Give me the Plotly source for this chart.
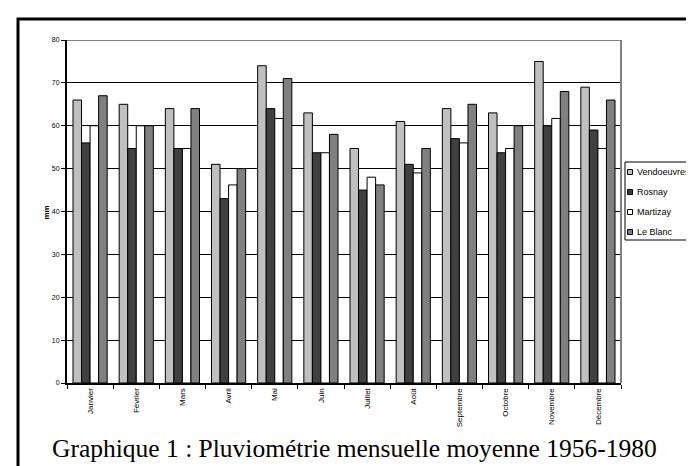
import plotly.graph_objects as go

months = ["Janvier", "Février", "Mars", "Avril", "Mai", "Juin", "Juillet",
          "Août", "Septembre", "Octobre", "Novembre", "Décembre"]
vendoeuvres = [66, 65, 64, 51, 74, 63, 54.7, 61, 64, 63, 75, 69]
rosnay = [56, 54.7, 54.7, 43, 64, 53.7, 45, 51, 57, 53.7, 60, 59]
martizay = [60, 60, 54.7, 46.2, 61.7, 53.7, 48, 49, 56, 54.7, 61.7, 54.7]
le_blanc = [67, 60, 64, 50, 71, 58, 46.2, 54.7, 65, 60, 68, 66]

names = ["Vendoeuvres", "Rosnay", "Martizay", "Le Blanc"]
values = [vendoeuvres, rosnay, martizay, le_blanc]
colors = ["#c0c0c0", "#404040", "#ffffff", "#808080"]

# plot-area geometry in pixels (for converting to paper coordinates)
L, R, T, B = 59, 613, 32, 375
W, H = R - L, B - T
px = lambda x: (x - L) / W
py = lambda y: (B - y) / H

fig = go.Figure()
for name, vals, col in zip(names, values, colors):
    fig.add_trace(go.Bar(x=months, y=vals, name=name,
                         marker=dict(color=col, line=dict(color="black", width=1))))

fig.update_layout(
    width=694, height=466,
    margin=dict(l=L, r=694 - R, t=T, b=466 - B),
    paper_bgcolor="white", plot_bgcolor="white",
    barmode="group", bargap=0.26, bargroupgap=0,
    font=dict(family="Liberation Sans, Arial", color="black", size=8),
    showlegend=False,
    xaxis=dict(tickangle=-90, tickson="boundaries", ticks="outside", ticklen=4,
               tickcolor="black", showline=True, linecolor="black", linewidth=2,
               showgrid=False, tickfont=dict(size=8, color="black")),
    yaxis=dict(range=[0, 80], dtick=10, ticks="outside", ticklen=4, tickcolor="black",
               showline=True, linecolor="black", linewidth=2,
               showgrid=True, gridcolor="black", gridwidth=1,
               tickfont=dict(size=7, color="black"), zeroline=False),
)

fig.add_shape(type="line", xref="paper", yref="y", x0=0, x1=1, y0=80, y1=80,
              line=dict(color="#808080", width=2))
fig.add_shape(type="line", xref="paper", yref="paper", x0=1, x1=1, y0=0, y1=1,
              line=dict(color="#808080", width=2))
# outer frame
fig.add_shape(type="rect", xref="paper", yref="paper",
              x0=px(10), x1=px(720), y0=py(480), y1=py(11),
              line=dict(color="black", width=3), fillcolor="rgba(0,0,0,0)", layer="above")

# legend box
fig.add_shape(type="rect", xref="paper", yref="paper",
              x0=px(617), x1=px(688), y0=py(232), y1=py(154),
              line=dict(color="black", width=1), fillcolor="white")
item_y = [164, 184, 204, 224]
for name, col, yy in zip(names, colors, item_y):
    fig.add_shape(type="rect", xref="paper", yref="paper",
                  x0=px(619.5), x1=px(624.5), y0=py(yy + 2.5), y1=py(yy - 2.5),
                  line=dict(color="black", width=1), fillcolor=col)
    fig.add_annotation(text=name, xref="paper", yref="paper", x=px(627), y=py(yy),
                       xanchor="left", yanchor="middle", showarrow=False,
                       font=dict(size=9, color="black"))

fig.add_annotation(text="<b>mm</b>", xref="paper", yref="paper",
                   x=px(32), y=py(205), textangle=-90,
                   showarrow=False, font=dict(size=8))
fig.add_annotation(text="Graphique 1 : Pluviométrie mensuelle moyenne 1956-1980",
                   xref="paper", yref="paper", x=px(346), y=py(457),
                   showarrow=False,
                   font=dict(family="Liberation Serif, Times New Roman", size=25.5, color="black"))

fig.write_html("out.html")
